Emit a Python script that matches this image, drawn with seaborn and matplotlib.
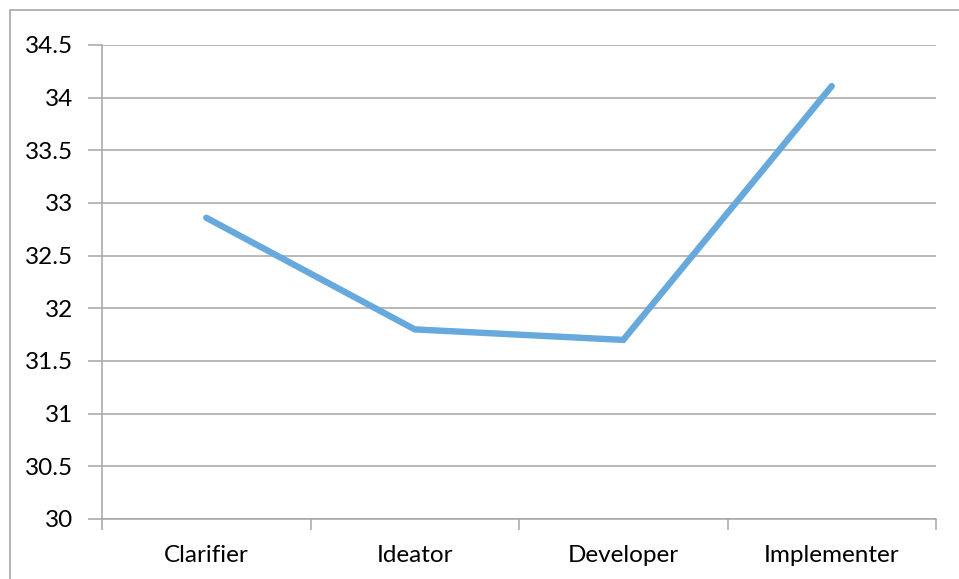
import matplotlib
matplotlib.use("Agg")
import matplotlib.pyplot as plt
from matplotlib.patches import Rectangle
from matplotlib.ticker import FixedLocator
import seaborn as sns
import pandas as pd

categories = ["Clarifier", "Ideator", "Developer", "Implementer"]
scores = [32.86, 31.80, 31.70, 34.11]
y_ticks = [30, 30.5, 31, 31.5, 32, 32.5, 33, 33.5, 34, 34.5]
y_tick_labels = ["30", "30.5", "31", "31.5", "32", "32.5", "33", "33.5", "34", "34.5"]

sns.set_style("white")
plt.rcParams["font.family"] = ["Lato", "DejaVu Sans"]

grid_color = "#A6A6A6"
line_color = "#67A9DC"

df = pd.DataFrame({"pos": range(len(categories)), "score": scores})

fig = plt.figure(figsize=(9.59, 5.79), dpi=100)
ax = fig.add_axes([102 / 959, 1 - 519 / 579, (936 - 102) / 959, (519 - 45) / 579])

sns.lineplot(data=df, x="pos", y="score", ax=ax, color=line_color,
             linewidth=4.6, solid_capstyle="round", solid_joinstyle="miter")

ax.set_xlim(-0.5, len(categories) - 0.5)
ax.set_ylim(30, 34.5)

# y axis: gridlines with short outward ticks
ax.set_yticks(y_ticks)
ax.set_yticklabels(y_tick_labels, fontsize=17.5, color="#000000")
ax.tick_params(axis="y", length=10, width=1.1, color=grid_color, pad=11, left=True)
ax.yaxis.grid(True, color=grid_color, linewidth=1.1)
ax.set_axisbelow(True)

# x axis: tick marks at category boundaries, labels at category centres
ax.xaxis.set_major_locator(FixedLocator([i - 0.5 for i in range(len(categories) + 1)]))
ax.xaxis.set_minor_locator(FixedLocator(list(range(len(categories)))))
ax.set_xticklabels([])
ax.set_xticklabels(categories, minor=True, fontsize=17.5, color="#000000")
ax.tick_params(axis="x", which="major", length=8, width=1.1, color=grid_color,
               direction="out", bottom=True)
ax.tick_params(axis="x", which="minor", length=0, pad=19)

for side in ["top", "right"]:
    ax.spines[side].set_visible(False)
for side in ["left", "bottom"]:
    ax.spines[side].set_color(grid_color)
    ax.spines[side].set_linewidth(1.1)

ax.set_xlabel("")
ax.set_ylabel("")

# chart frame
fig.patches.append(Rectangle((10 / 959, -0.05), 1.2, 1 - 10 / 579 + 0.05,
                             transform=fig.transFigure, fill=False,
                             edgecolor="#A0A0A0", linewidth=1.1))

fig.savefig("out.png", dpi=100)
